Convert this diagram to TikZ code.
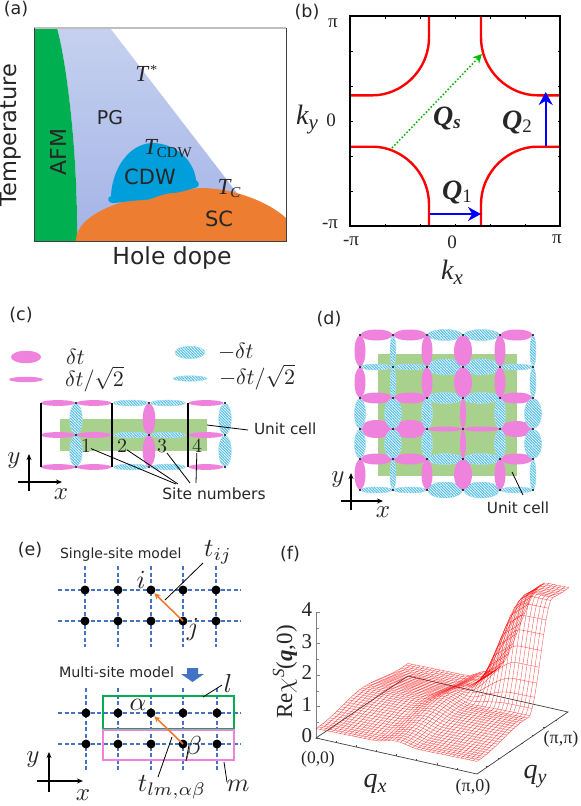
\documentclass[tikz,border=0pt]{standalone}
\usepackage{fontspec}
\usepackage{bm}
\usetikzlibrary{arrows.meta,patterns.meta}
\setmainfont{DejaVu Sans}
\newfontfamily\ser{Liberation Serif}
\newcommand\fs[1]{\fontsize{#1}{#1}\selectfont}
\definecolor{afm}{HTML}{00B050}
\definecolor{sccol}{HTML}{ED7D31}
\definecolor{cdwcol}{HTML}{009FDC}
\definecolor{pinkc}{HTML}{EE82DC}
\definecolor{stripe}{HTML}{4FBDE6}
\definecolor{cellg}{HTML}{A9D18E}
\definecolor{latb}{HTML}{4472C4}
\definecolor{ored}{HTML}{ED7D31}
\definecolor{pgtop}{HTML}{C6D1F0}
\definecolor{pgbot}{HTML}{A3B3E6}
\tikzset{
  txt/.style={inner sep=0pt,outer sep=0pt,text=black!85},
  mth/.style={inner sep=0pt,outer sep=0pt,text=black!85,scale=#1},
  pk/.style={fill=pinkc},
  bl/.style={preaction={fill=white},pattern={Lines[angle=-45,distance=2pt,line width=1.05pt]},pattern color=stripe,draw=stripe!55,line width=0.4pt},
  lead/.style={draw=black,line width=0.8pt},
  ax/.style={draw=black,line width=1.5pt,-{Stealth[length=6pt,width=5pt]}},
  site/.style={circle,fill=black,inner sep=0pt,minimum size=9pt},
  latl/.style={draw=latb,line width=1.1pt,dash pattern=on 4pt off 2.5pt},
  hop/.style={draw=ored,line width=1.6pt,-{Stealth[length=6pt,width=6pt]}},
  red3d/.style={draw=red,line width=0.35pt,opacity=0.7},
  declare function={
    smst(\t,\a,\b)=(min(1,max(0,(\t-\a)/(\b-\a))))^2*(3-2*min(1,max(0,(\t-\a)/(\b-\a))));
    bmp(\t,\w)=(max(0,1-abs(\t)/\w))^2*(3-2*max(0,1-abs(\t)/\w));
    zs(\u,\v)=0.3+0.1*(\u+\v)+0.25*bmp(\v-0.5,0.45)+(0.12+0.15*\v)*bmp(\u-0.5,0.14)+3.45*smst(\u,0.5,0.86)*smst(\v,0.56,0.82);
    px(\u,\v)=316+161*\u+92*\v;
    py(\u,\v)=738+36*\u-62*\v-31.5*zs(\u,\v);
  }
}
\begin{document}
\begin{tikzpicture}[x=1pt,y=-1pt]
\useasboundingbox (0,0) rectangle (581,806);
\fill[white] (0,0) rectangle (581,806);
% ---------- (a)
\node[txt] (la) at (16,9) {\fs{17.5}(a)};
\shade[top color=pgtop,bottom color=pgbot] (57,28) -- (110,28) -- (240,197) -- (200,215) -- (77,241) .. controls (78,150) and (66,60) .. (57,28) -- cycle;
\fill[afm] (34,28) -- (57,28) .. controls (66,60) and (78,150) .. (77,241) -- (34,241) -- cycle;
\fill[sccol] (76,241) .. controls (76,215) and (120,195) .. (200,188) .. controls (235,188) and (270,203) .. (286,218) -- (286,241) -- cycle;
\fill[cdwcol] (111,196) .. controls (112,170) and (128,144) .. (152,143) .. controls (175,143) and (194,160) .. (196,180) .. controls (200,183) and (200,187) .. (195,188) .. controls (186,190) and (180,193) .. (172,193) .. controls (162,194) and (155,198) .. (146,200) .. controls (135,200) and (125,202) .. (114,203) .. controls (108,204) and (106,197) .. (111,196) -- cycle;
\draw[gray!50,line width=1.2pt] (34,28) -- (286,28);
\draw[black!75,line width=1pt] (286,28) -- (286,241) -- (34,241) -- (34,28);
\node[txt] (tstar) at (146,73) {\ser\fs{23}\itshape T\kern1.5pt\raisebox{7pt}{\fs{14}*}};
\node[txt] (pg) at (110,118) {\fs{19}PG};
\node[txt] (tcdw) at (168,149) {\ser\fs{23}\itshape T\raisebox{-3pt}{\upshape\fs{15}CDW}};
\node[txt] (cdw) at (150,177) {\fs{21}CDW};
\node[txt] (tc) at (229,189) {\ser\fs{23}\itshape T\raisebox{-3pt}{\fs{15}C}};
\node[txt] (sc) at (219,219) {\fs{21}SC};
\node[txt,rotate=90] (afml) at (58,152) {\fs{22}AFM};
\node[txt,rotate=90] (templ) at (10.5,135) {\fs{22.5}Temperature};
\node[txt] (hole) at (172,258) {\fs{23.5}Hole dope};
% ---------- (b)
\node[txt] (lb) at (307,12) {\fs{17.5}(b)};
\foreach \k in {1,...,5}{
  \draw[black,line width=0.8pt] ({350+35*\k},16) -- ++(0,2.5) ({350+35*\k},226) -- ++(0,-2.5);
  \draw[black,line width=0.8pt] (350,{16+35*\k}) -- ++(2.5,0) (560,{16+35*\k}) -- ++(-2.5,0);
}
\foreach \sx/\sy in {1/1,-1/1,1/-1,-1/-1}{
  \begin{scope}[shift={(455,121)},xscale=\sx,yscale=\sy]
    \draw[red,line width=2.4pt] (-105,25.7) -- (-82,25.7) .. controls (-55,25.7) and (-26,49) .. (-26,84) -- (-26,105);
  \end{scope}
}
\draw[black,line width=1.6pt] (350,16) rectangle (560,226);
\coordinate (qsa) at (392,148);
\coordinate (qsb) at (482,54);
\coordinate (q1a) at (430,214);
\coordinate (q1b) at (481,214);
\coordinate (q2a) at (545.7,146);
\coordinate (q2b) at (545.7,92);
\draw[green!70!black,line width=1.5pt,dotted,-{Stealth[length=9pt,width=9pt,green!75!black]}] (qsa) -- (qsb);
\draw[blue,line width=2pt,-{Stealth[length=13pt,width=14pt]}] (q1a) -- (q1b);
\draw[blue,line width=2pt,-{Stealth[length=13pt,width=14pt]}] (q2a) -- (q2b);
\node[txt] (qs) at (447,118) {\ser\fs{28}\bfseries\itshape Q\raisebox{-3pt}{\fs{19}s}};
\node[txt] (q1) at (457,192) {\ser\fs{28}\bfseries\itshape Q\raisebox{-3pt}{\upshape\mdseries\fs{19}1}};
\node[txt] (q2) at (517,122) {\ser\fs{28}\bfseries\itshape Q\raisebox{-3pt}{\upshape\mdseries\fs{19}2}};
\node[txt] (ypi) at (333,23) {\ser\fs{19}π};
\node[txt] (y0) at (331,120) {\ser\fs{19}0};
\node[txt] (ympi) at (330,224) {\ser\fs{19}-π};
\node[txt] (xmpi) at (351,241) {\ser\fs{19}-π};
\node[txt] (x0) at (452,242) {\ser\fs{19}0};
\node[txt] (xpi) at (557,239) {\ser\fs{19}π};
\node[txt] (ky) at (307,120) {\ser\fs{28}\itshape k\raisebox{-5pt}{\fs{21}y}};
\node[txt] (kx) at (452,272) {\ser\fs{28}\itshape k\raisebox{-5pt}{\fs{21}x}};
% ---------- (c)
\node[txt] (lc) at (21,315) {\fs{17.5}(c)};
\path[pk] (26,357) ellipse [x radius=15,y radius=6.2];
\path[pk] (26,379.5) ellipse [x radius=17,y radius=2.7];
\path[bl] (190,352.5) ellipse [x radius=15,y radius=6.2];
\path[bl] (190,378.5) ellipse [x radius=17,y radius=2.7];
\node[txt,anchor=west] (l1) at (66,357) {\scalebox{2.2}{$\delta t$}};
\node[txt,anchor=west] (l2) at (65,379) {\scalebox{2.2}{$\delta t/\sqrt{2}$}};
\node[txt,anchor=west] (l3) at (218,352) {\scalebox{2.2}{$-\delta t$}};
\node[txt,anchor=west] (l4) at (219,377) {\scalebox{2.2}{$-\delta t/\sqrt{2}$}};
\fill[cellg] (60,419) rectangle (207,451);
\foreach \yy in {403,435,467}{
  \foreach \xx/\tp in {58/pk,94/pk,131/bl,168/bl,206/pk}{
    \path[\tp] (\xx,\yy) ellipse [x radius=17.5,y radius=2.9];
  }
}
\foreach \xx/\tp in {76/bl,149/pk,225/bl}{
  \foreach \yy in {419,451}{
    \path[\tp] (\xx,\yy) ellipse [x radius=6.3,y radius=15.5];
  }
}
\foreach \xx in {41,112,188}{\draw[black,line width=1.1pt] (\xx,403) -- (\xx,467);}
\foreach \xx in {76,149,225}{\foreach \yy in {403,435,467}{\fill[black] (\xx,\yy) circle (1.1);}}
\node[mth=2] (n1) at (86,446.5) {$1$};
\node[mth=2] (n2) at (122,446.5) {$2$};
\node[mth=2] (n3) at (162,446.5) {$3$};
\node[mth=2] (n4) at (197,446.5) {$4$};
\node[txt] (snum) at (214,494) {\fs{15.5}Site numbers};
\node[txt,anchor=west] (ucc) at (254,429) {\fs{15.3}Unit cell};
\draw[lead] (n1) -- (176,484);
\draw[lead] (n2) -- (178,484);
\draw[lead] (n3) -- (190,483);
\draw[lead] (n4) -- (196,483);
\coordinate (ucca) at (207,425);
\draw[lead] (ucca) -- (248,430);
\coordinate (cx0) at (18,482);\coordinate (cx1) at (62,482);
\coordinate (cy0) at (29,491);\coordinate (cy1) at (29,454);
\draw[ax] (cx0) -- (cx1);
\draw[ax] (cy0) -- (cy1);
\node[mth=2.5] (cyl) at (14,461) {$y$};
\node[mth=2.5] (cxl) at (61,494) {$x$};
% ---------- (d)
\node[txt] (ld) at (329,319) {\fs{17.5}(d)};
\fill[cellg] (378,354) rectangle (517,476);
\foreach \yy/\lst in {335/{pk/5.5,pk/5.5,bl/5.5,bl/5.5,pk/5.5},367/{bl/3,bl/3,bl/8,bl/8,bl/3},398/{pk/5.5,pk/5.5,bl/5.5,bl/5.5,pk/5.5},429/{pk/9,pk/9,pk/2.5,pk/2.5,pk/8},459/{pk/5.5,pk/5.5,bl/5.5,bl/5.5,pk/5.5},490/{bl/3,bl/3,bl/8,bl/8,bl/3}}{
  \foreach \tp/\ry [count=\c from 0] in \lst {
    \pgfmathsetmacro\xa{{360,393,427,463,500,533}[\c]}
    \pgfmathsetmacro\xb{{360,393,427,463,500,533}[\c+1]}
    \path[\tp] ({(\xa+\xb)/2},\yy) ellipse [x radius={(\xb-\xa)/2-0.5},y radius=\ry];
  }
}
\foreach \xx/\lst in {360/{pk/5.5,pk/5.5,bl/5.5,bl/5.5,pk/5.5},393/{bl/3,bl/3,bl/8.5,bl/8.5,bl/3},427/{pk/5.5,pk/5.5,bl/5.5,bl/5.5,pk/5.5},463/{pk/9,pk/9,pk/3,pk/3,pk/9},500/{pk/5.5,pk/5.5,bl/5.5,bl/5.5,pk/5.5},533/{bl/3,bl/3,bl/8.5,bl/8.5,bl/3}}{
  \foreach \tp/\rx [count=\c from 0] in \lst {
    \pgfmathsetmacro\ya{{335,367,398,429,459,490}[\c]}
    \pgfmathsetmacro\yb{{335,367,398,429,459,490}[\c+1]}
    \path[\tp] (\xx,{(\ya+\yb)/2}) ellipse [x radius=\rx,y radius={(\yb-\ya)/2-0.5}];
  }
}
\foreach \xx in {360,393,427,463,500,533}{\foreach \yy in {335,367,398,429,459,490}{\fill[black] (\xx,\yy) circle (1.1);}}
\coordinate (dx0) at (341,501);\coordinate (dx1) at (383,501);
\coordinate (dy0) at (351,510);\coordinate (dy1) at (351,473);
\draw[ax] (dx0) -- (dx1);
\draw[ax] (dy0) -- (dy1);
\node[mth=2.5] (dyl) at (338,480) {$y$};
\node[mth=2.5] (dxl) at (383,512) {$x$};
\node[txt] (ucd) at (518,508) {\fs{15.3}Unit cell};
\coordinate (ucda) at (512,472);
\coordinate (ucdb) at (523,495);
\draw[lead] (ucda) -- (ucdb);
% ---------- (e)
\node[txt] (le) at (30,550) {\fs{17.5}(e)};
\node[txt,anchor=west] (ss) at (60,555) {\fs{14}Single-site model};
\node[txt,anchor=west] (ms) at (59,672) {\fs{14.3}Multi-site model};
\foreach \yy in {590,621}{\draw[latl] (58,\yy) -- (241,\yy);}
\foreach \xx in {85,118,151,183,216}{\draw[latl] (\xx,566) -- (\xx,647);}
\foreach \xx/\c in {85/1,118/2,151/3,183/4,216/5}{
  \node[site] (sa\c) at (\xx,590) {};
  \node[site] (sb\c) at (\xx,621) {};
}
\draw[hop] (sb4.center) -- (sa3);
\foreach \yy in {713,744}{\draw[latl] (58,\yy) -- (241,\yy);}
\foreach \xx in {86,118,151,183,217}{\draw[latl] (\xx,688) -- (\xx,772);}
\draw[afm,line width=1.2pt] (103,696) rectangle (234,729);
\draw[pinkc,line width=1.2pt] (103,730) rectangle (234,760);
\foreach \xx/\c in {86/1,118/2,151/3,183/4,217/5}{
  \node[site] (ma\c) at (\xx,713) {};
  \node[site] (mb\c) at (\xx,744) {};
}
\draw[hop] (mb4.center) -- (ma3);
\fill[latb] (187,668) -- (198,668) -- (198,674) -- (204,674) -- (192.5,682) -- (181,674) -- (187,674) -- cycle;
\node[mth=2.6] (il) at (141,580) {$i$};
\node[mth=2.6] (jl) at (193,629) {$j$};
\node[mth=2.6] (tij) at (218,552) {$t_{ij}$};
\coordinate (tija) at (203,563);\coordinate (tijb) at (165,600);
\draw[lead] (tija) -- (tijb);
\node[mth=2.6] (al) at (138,705) {$\alpha$};
\node[mth=2.6] (bl2) at (194,748) {$\beta$};
\node[mth=2.6] (ll) at (228,683) {$l$};
\node[mth=2.6] (ml) at (238,786) {$m$};
\node[mth=2.6] (tlm) at (172,787) {$t_{lm,\alpha\beta}$};
\coordinate (la1) at (203,697);\coordinate (la2) at (222,685);
\draw[lead] (la1) -- (la2);
\coordinate (ma1) at (224,762);\coordinate (ma2) at (227,782);
\draw[lead] (ma1) -- (ma2);
\coordinate (ta1) at (172,737);\coordinate (ta2) at (158,777);
\draw[lead] (ta1) -- (ta2);
\coordinate (ba1) at (189,745);\coordinate (ba2) at (186,761);
\draw[lead] (ba1) -- (ba2);
\coordinate (ex0) at (37,781);\coordinate (ex1) at (83,781);
\coordinate (ey0) at (49,792);\coordinate (ey1) at (49,752);
\draw[ax] (ex0) -- (ex1);
\draw[ax] (ey0) -- (ey1);
\node[mth=2.5] (eyl) at (33,760) {$y$};
\node[mth=2.5] (exl) at (83,795) {$x$};
% ---------- (f)
\node[txt] (lf) at (290,554) {\fs{17.5}(f)};
\draw[gray,line width=0.8pt] (316,738) -- (316,612);
\foreach \k in {0,1,2,3,4}{\draw[gray,line width=0.6pt] (316,{738-31.5*\k}) -- ++(4,0);}
\foreach \k in {0,1,2,3}{\draw[gray,line width=0.4pt] (316,{738-31.5*\k-15.75}) -- ++(2.5,0);}
\draw[black!75,line width=0.7pt] (316,738) -- (477,774) -- (568,712) -- (408,676) -- cycle;
\foreach \k in {1,...,7}{
  \draw[black!70,line width=0.4pt] ({316+161*\k/8},{738+36*\k/8}) -- ++(0,-2);
  \draw[black!70,line width=0.4pt] ({477+91*\k/8},{774-62*\k/8}) -- ++(-2,0);
}
\foreach \i in {0,...,40}{
  \pgfmathsetmacro\w{\i/40}
  \draw[red3d] plot[domain=0:1,samples=41] ({px(\x,\w)},{py(\x,\w)});
  \draw[red3d] plot[domain=0:1,samples=41] ({px(\w,\x)},{py(\w,\x)});
}
\foreach \k in {0,...,4}{\node[txt] (zl\k) at (312,{736-31.5*\k}) [anchor=east] {\ser\fs{21}\k};}
\node[txt,rotate=90] (rechi) at (285,672) {\ser\fs{23}Re$\chi$\raisebox{8pt}{\itshape\fs{17}S}(\textbf{\itshape q},0)};
\node[txt] (o0) at (318,759) {\ser\fs{17.5}(0,0)};
\node[txt] (opi) at (473,787) {\ser\fs{18}(π,0)};
\node[txt] (pipi) at (561,739) {\ser\fs{18}(π,π)};
\node[txt] (qxl) at (375,784) {\ser\fs{28}\itshape q\raisebox{-5pt}{\fs{20}x}};
\node[txt] (qyl) at (535,777) {\ser\fs{28}\itshape q\raisebox{-5pt}{\fs{20}y}};
\end{tikzpicture}
\end{document}
